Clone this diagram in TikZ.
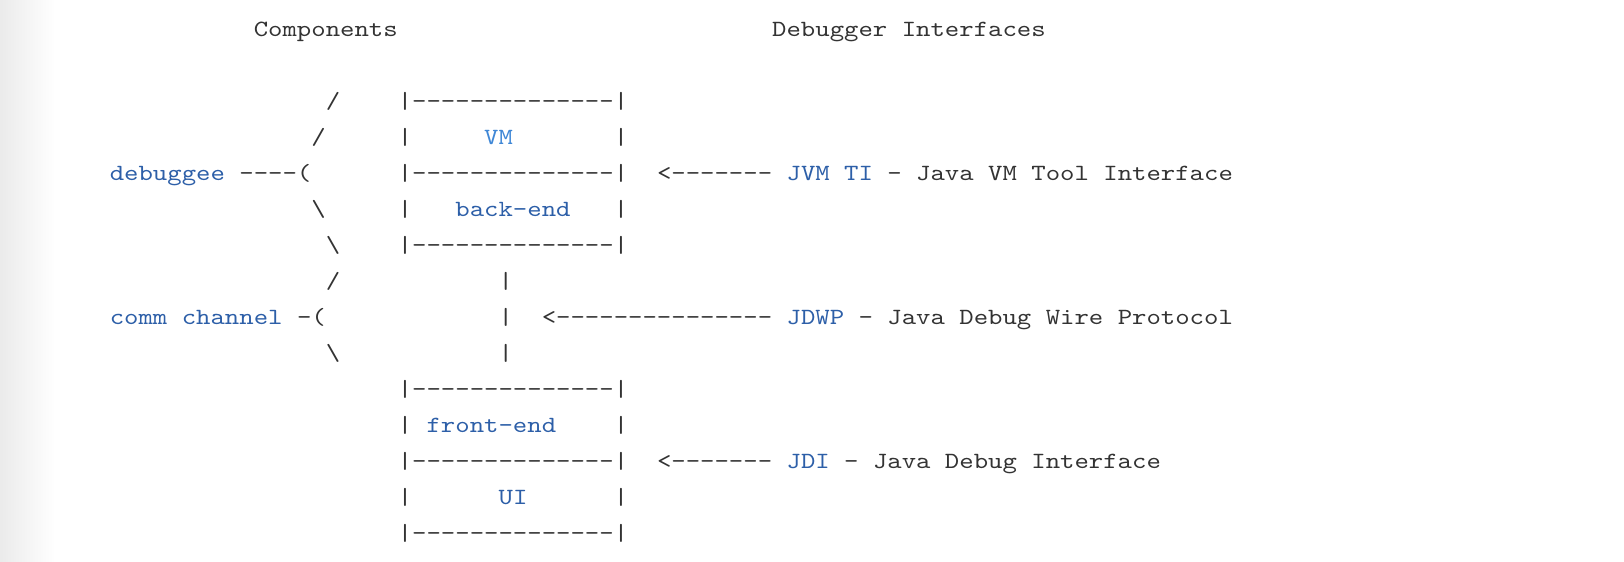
\documentclass[tikz,border=0pt]{standalone}
\usepackage{fontspec}
\setmonofont[FakeStretch=1.18]{lmmono10-regular.otf}
\usepackage{tikz}

\definecolor{txtgray}{HTML}{333333}
\definecolor{lblue}{HTML}{2D5FA8}
\definecolor{vmblue}{HTML}{3F87D6}

\begin{document}
\begin{tikzpicture}[x=14.4pt,y=-36pt,
  txt/.style={anchor=base west,inner sep=0pt,outer sep=0pt,text=txtgray,
    font=\ttfamily\fontsize{23.24}{24}\selectfont},
  lbl/.style={txt,text=lblue}]
\useasboundingbox (-6.625,-2.014) rectangle (106.153,13.597);
\shade[left color=black!8,right color=white] (-6.625,-2.014) rectangle (-2.8,13.597);

% headings
\node[txt] (comp) at (11,-1) {Components};
\node[txt] (dbgif) at (47,-1) {Debugger Interfaces};

% the stack of boxes
\foreach \r in {1,3,5,9,11,13}
  \node[txt] (sep\r) at (21,\r) {|--------------|};
\foreach \r in {2,4,10,12} {
  \node[txt] (lb\r) at (21,\r) {|};
  \node[txt] (rb\r) at (36,\r) {|};
}
\foreach \r in {6,7,8}
  \node[txt] (wire\r) at (28,\r) {|};

\node[txt,text=vmblue] (vm) at (27,2) {VM};
\node[lbl] (backend) at (25,4) {back-end};
\node[lbl] (frontend) at (23,10) {front-end};
\node[lbl] (ui) at (28,12) {UI};

% braces on the left
\node[txt] (up1) at (16,1) {/};
\node[txt] (up2) at (15,2) {/};
\node[txt] (dn1) at (15,4) {\textbackslash};
\node[txt] (dn2) at (16,5) {\textbackslash};
\node[txt] (up3) at (16,6) {/};
\node[txt] (dn3) at (16,8) {\textbackslash};

\node[lbl] (debuggee) at (1,3) {debuggee};
\node[txt] (dbgline) at (10,3) {----(};
\node[lbl] (comm) at (1,7) {comm channel};
\node[txt] (commline) at (14,7) {-(};

% interfaces on the right
\node[txt] (jvmarr) at (39,3) {<-------};
\node[lbl] (jvmti) at (48,3) {JVM TI};
\node[txt] (jvmtxt) at (55,3) {- Java VM Tool Interface};

\node[txt] (jdwparr) at (31,7) {<---------------};
\node[lbl] (jdwp) at (48,7) {JDWP};
\node[txt] (jdwptxt) at (53,7) {- Java Debug Wire Protocol};

\node[txt] (jdiarr) at (39,11) {<-------};
\node[lbl] (jdi) at (48,11) {JDI};
\node[txt] (jditxt) at (52,11) {- Java Debug Interface};

\end{tikzpicture}
\end{document}
